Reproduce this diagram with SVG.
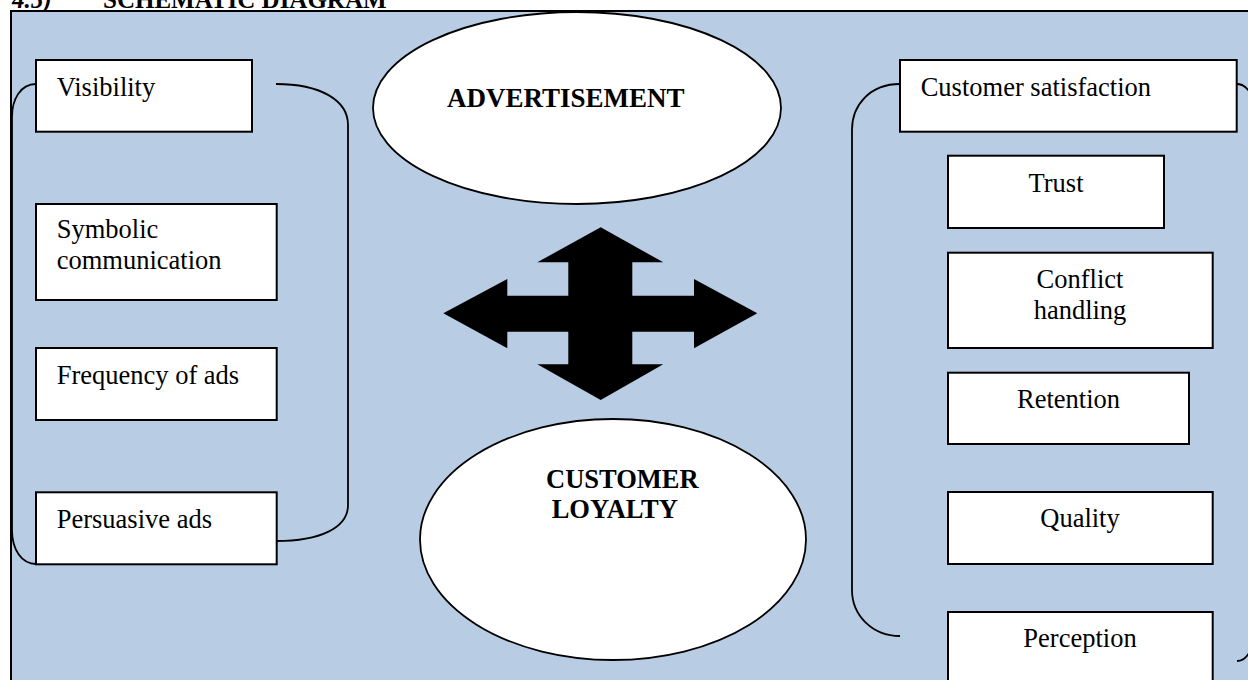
<svg xmlns="http://www.w3.org/2000/svg" width="1248" height="680" viewBox="0 0 1248 680">
<style>
.box{fill:#ffffff;stroke:#000000;stroke-width:2}
.ell{fill:#ffffff;stroke:#000000;stroke-width:1.8}
.br{fill:none;stroke:#000000;stroke-width:1.8}
.t{font-family:"Liberation Serif","Times New Roman",serif;font-size:26.5px;fill:#000000}
.tc{font-family:"Liberation Serif","Times New Roman",serif;font-size:26.5px;fill:#000000;text-anchor:middle}
.tb{font-family:"Liberation Serif","Times New Roman",serif;font-size:26.5px;font-weight:bold;fill:#000000}
</style>
<rect x="0" y="0" width="1248" height="680" fill="#ffffff"/>
<g id="header">
<text x="12" y="7.5" class="tb" style="font-style:italic;font-size:25px">4.5)</text>
<text x="103" y="7.5" class="tb" style="font-size:25px">SCHEMATIC DIAGRAM</text>
</g>
<g id="frame">
<rect x="11" y="11" width="1250" height="680" fill="#B8CCE4" stroke="#000000" stroke-width="2"/>
</g>
<g id="connectors">
<path class="br" d="M36,84 C20,84 12,100 12,117 L12,530 C12,550 22,564 36,564"/>
<path class="br" d="M276,84 C320,84 348,100 348,125 L348,505 C348,528 320,541 276,541"/>
<path class="br" d="M900,84 C870,84 852,105 852,130 L852,590 C852,615 872,636 900,636"/>
<path class="br" d="M1237,84 C1242,84 1246,87 1249,91"/>
<path class="br" d="M1237,661 C1242,661 1246,658 1249,653"/>
</g>
<g id="arrows">
<polygon fill="#000000" points="600.7,227.3 663.3,262.3 632.3,262.3 632.3,295.7 694,295.7 694,279 757.3,313.3 694,348.3 694,331.7 632.3,331.7 632.3,364.3 663.3,364.3 600.7,400 537.3,364.3 568.3,364.3 568.3,331.7 507.3,331.7 507.3,348.3 443.3,313.3 507.3,279 507.3,295.7 568.3,295.7 568.3,262.3 537.3,262.3"/>
</g>
<g id="advertisement">
<ellipse class="ell" cx="577" cy="108" rx="204" ry="96"/>
<text x="447" y="106.7" class="tb" style="font-size:27px">ADVERTISEMENT</text>
</g>
<g id="customer-loyalty">
<ellipse class="ell" cx="613" cy="539.5" rx="193" ry="120.5"/>
<text x="546" y="488" class="tb">CUSTOMER</text>
<text x="551.7" y="518.3" class="tb">LOYALTY</text>
</g>
<g id="visibility">
<rect class="box" x="36" y="60" width="216" height="71.7"/>
<text x="56.7" y="95.7" class="t">Visibility</text>
</g>
<g id="symbolic-communication">
<rect class="box" x="36" y="204" width="240.7" height="96"/>
<text x="56.7" y="237.7" class="t">Symbolic</text>
<text x="56.7" y="269" class="t">communication</text>
</g>
<g id="frequency-of-ads">
<rect class="box" x="36" y="348" width="240.7" height="72"/>
<text x="56.7" y="383.5" class="t">Frequency of ads</text>
</g>
<g id="persuasive-ads">
<rect class="box" x="36" y="492.3" width="240.7" height="72"/>
<text x="56.7" y="527.7" class="t">Persuasive ads</text>
</g>
<g id="customer-satisfaction">
<rect class="box" x="900" y="60" width="336.7" height="71.7"/>
<text x="920.7" y="96" class="t">Customer satisfaction</text>
</g>
<g id="trust">
<rect class="box" x="948" y="155.7" width="216" height="72.3"/>
<text x="1056" y="192" class="tc">Trust</text>
</g>
<g id="conflict-handling">
<rect class="box" x="948" y="252.7" width="264.7" height="95.3"/>
<text x="1080" y="287.7" class="tc">Conflict</text>
<text x="1080" y="319" class="tc">handling</text>
</g>
<g id="retention">
<rect class="box" x="948" y="372.7" width="241" height="71.3"/>
<text x="1068.5" y="407.7" class="tc">Retention</text>
</g>
<g id="quality">
<rect class="box" x="948" y="492" width="264.7" height="72"/>
<text x="1080" y="527" class="tc">Quality</text>
</g>
<g id="perception">
<rect class="box" x="948" y="612" width="264.7" height="90"/>
<text x="1080" y="647" class="tc">Perception</text>
</g>
</svg>
